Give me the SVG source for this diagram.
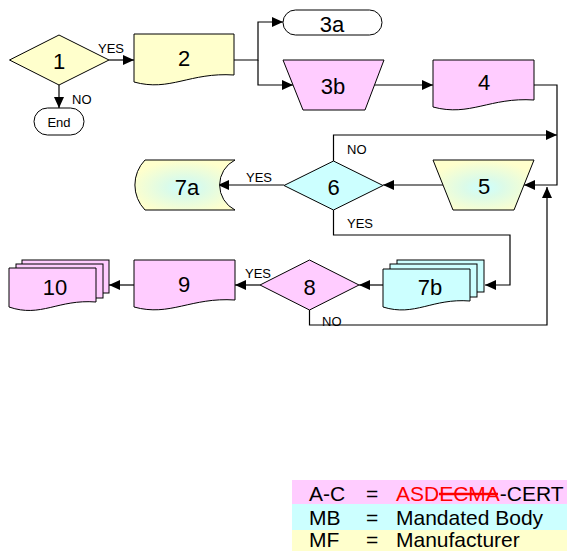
<svg xmlns="http://www.w3.org/2000/svg" width="568" height="551" viewBox="0 0 568 551">
<style>
.s{stroke:#000;stroke-width:1}
.y{fill:#ffffcc}
.p{fill:#ffccff}
.c{fill:#ccffff}
.w{fill:#ffffff}
.t{font-family:"Liberation Sans",Arial,sans-serif;font-size:22px;fill:#000;text-anchor:middle}
.l{font-family:"Liberation Sans",Arial,sans-serif;font-size:13px;fill:#000}
.g{font-family:"Liberation Sans",Arial,sans-serif;font-size:21px;fill:#000}
.k{fill:none;stroke:#000;stroke-width:1.2}
</style>
<defs>
<marker id="a" markerUnits="userSpaceOnUse" markerWidth="11" markerHeight="10" refX="11" refY="5" orient="auto">
<path d="M0,0 L11,5 L0,10 Z" fill="#000"/>
</marker>
<radialGradient id="gr" cx="0.5" cy="0.55" r="0.55">
<stop offset="0" stop-color="#ccffff"/>
<stop offset="0.35" stop-color="#dcfbe8"/>
<stop offset="1" stop-color="#ffffcc"/>
</radialGradient>
</defs>

<g id="connectors">
<path class="k" d="M109,60 H134" marker-end="url(#a)"/>
<path class="k" d="M59,85 V108" marker-end="url(#a)"/>
<path class="k" d="M234,60 H258 V22 H283" marker-end="url(#a)"/>
<path class="k" d="M258,60 V85 H293" marker-end="url(#a)"/>
<path class="k" d="M374,85 H433" marker-end="url(#a)"/>
<path class="k" d="M534,85 H557 V185 H524" marker-end="url(#a)"/>
<path class="k" d="M333.5,161 V135 H557" marker-end="url(#a)"/>
<path class="k" d="M443,185 H383" marker-end="url(#a)"/>
<path class="k" d="M284,185 H218" marker-end="url(#a)"/>
<path class="k" d="M333.5,210 V235 H510 V285 H485" marker-end="url(#a)"/>
<path class="k" d="M383,285 H359" marker-end="url(#a)"/>
<path class="k" d="M260,285 H235" marker-end="url(#a)"/>
<path class="k" d="M134,285 H109" marker-end="url(#a)"/>
<path class="k" d="M309.5,310 V325 H547 V187" marker-end="url(#a)"/>
<text class="l" x="98" y="53">YES</text>
<text class="l" x="72" y="104">NO</text>
<text class="l" x="347" y="154">NO</text>
<text class="l" x="246" y="182">YES</text>
<text class="l" x="347" y="228">YES</text>
<text class="l" x="245" y="278">YES</text>
<text class="l" x="322" y="326">NO</text>
</g>

<g id="n1">
<polygon class="s y" points="9.5,60 59,35 109,60 59,85"/>
<text class="t" x="59" y="69">1</text>
</g>
<g id="nEnd">
<rect class="s w" x="34" y="108" width="50" height="27" rx="13.5"/>
<text class="l" x="59" y="127" text-anchor="middle">End</text>
</g>
<g id="n2">
<path class="s y" d="M134,34 H234 V75 C190,72 170,92 134,82 Z"/>
<text class="t" x="184" y="66">2</text>
</g>
<g id="n3a">
<rect class="s w" x="283" y="10" width="99" height="25" rx="12.5"/>
<text class="t" x="332" y="32">3a</text>
</g>
<g id="n3b">
<polygon class="s p" points="283,60 384,60 365,110 303,110"/>
<text class="t" x="333" y="94">3b</text>
</g>
<g id="n4">
<path class="s p" d="M433,60 H534 V100 C490,97 470,117 433,107 Z"/>
<text class="t" x="484" y="90">4</text>
</g>
<g id="n5">
<polygon class="s" fill="url(#gr)" points="433,160 534,160 514,210 453,210"/>
<text class="t" x="484" y="194">5</text>
</g>
<g id="n6">
<polygon class="s c" points="284,185.5 333.5,161 383,185.5 333.5,210"/>
<text class="t" x="333.5" y="195">6</text>
</g>
<g id="n7a">
<path class="s" fill="url(#gr)" d="M145,160 H235 A28,28 0 0 0 235,210 H145 A36,36 0 0 1 145,160 Z"/>
<text class="t" x="187" y="195">7a</text>
</g>
<g id="n7b">
<rect class="s c" x="397" y="260" width="87" height="32"/>
<rect class="s c" x="390" y="264" width="87" height="33"/>
<path class="s c" d="M383,269 H470 V301 C432,298 415,317 383,307 Z"/>
<text class="t" x="430" y="295">7b</text>
</g>
<g id="n8">
<polygon class="s p" points="260,285 309.5,260 359,285 309.5,310"/>
<text class="t" x="309.5" y="295">8</text>
</g>
<g id="n9">
<path class="s p" d="M134,260 H235 V300 C191,297 170,317 134,307 Z"/>
<text class="t" x="184" y="292">9</text>
</g>
<g id="n10">
<rect class="s p" x="22" y="260" width="87" height="33"/>
<rect class="s p" x="16" y="264" width="87" height="34"/>
<path class="s p" d="M9,268 H96 V302 C58,299 41,318 9,307 Z"/>
<text class="t" x="55" y="295">10</text>
</g>

<g id="legend">
<rect x="292" y="480" width="275" height="24" fill="#ffccff"/>
<rect x="292" y="504" width="275" height="26" fill="#ccffff"/>
<rect x="292" y="530" width="275" height="21" fill="#ffffcc"/>
<text class="g" x="309" y="501">A-C</text>
<text class="g" x="366" y="501">=</text>
<text class="g" x="396" y="501"><tspan fill="#ff0000">ASDECMA</tspan>-CERT</text>
<line x1="439" y1="494" x2="498" y2="494" stroke="#ff0000" stroke-width="2.5"/>
<text class="g" x="309" y="525">MB</text>
<text class="g" x="366" y="525">=</text>
<text class="g" x="396" y="525">Mandated Body</text>
<text class="g" x="309" y="547">MF</text>
<text class="g" x="366" y="547">=</text>
<text class="g" x="396" y="547">Manufacturer</text>
</g>
</svg>
